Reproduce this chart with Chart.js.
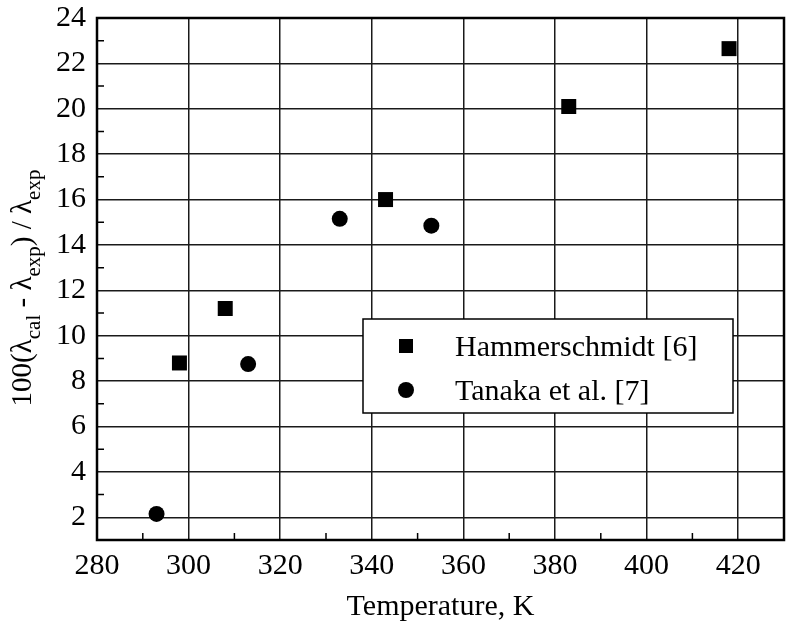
<!DOCTYPE html>
<html>
<head>
<meta charset="utf-8">
<title>Thermal conductivity deviation vs temperature</title>
<script src="https://cdn.jsdelivr.net/npm/chart.js@4/dist/chart.umd.min.js"></script>
<style>
  html, body { margin: 0; padding: 0; background: #fff; }
  canvas { display: block; }
</style>
</head>
<body>
<canvas id="devChart" width="786" height="625"></canvas>
<script>
// Hammerschmidt [6]
const hammerTemp = [298, 308, 343, 383, 418];
const hammerDev = [8.8, 11.2, 16.0, 20.1, 22.65];
// Tanaka et al. [7]
const tanakaTemp = [293, 313, 333, 353];
const tanakaDev = [2.15, 8.75, 15.15, 14.85];

const xTicks = [280, 300, 320, 340, 360, 380, 400, 420];
const yTicks = [2, 4, 6, 8, 10, 12, 14, 16, 18, 20, 22, 24];

const serif = '"Liberation Serif", "Times New Roman", serif';

function toPoints(xs, ys) {
    return xs.map((x, i) => ({ x: x, y: ys[i] }));
}

// frame, inward minor ticks, axis titles and the boxed legend
const decorations = {
    id: 'decorations',
    afterDraw(chart) {
        const ctx = chart.ctx;
        const a = chart.chartArea;
        const xs = chart.scales.x;
        const ys = chart.scales.y;
        ctx.save();
        ctx.strokeStyle = '#000';

        // minor ticks halfway between the labelled ones
        ctx.lineWidth = 1.5;
        ctx.beginPath();
        for (let i = 0; i < yTicks.length; i++) {
            const v = yTicks[i] - 1;
            if (v <= ys.min) continue;
            const py = ys.getPixelForValue(v);
            ctx.moveTo(a.left, py);
            ctx.lineTo(a.left + 7, py);
        }
        for (let i = 0; i < xTicks.length; i++) {
            const v = xTicks[i] + 10;
            if (v >= xs.max) continue;
            const px = xs.getPixelForValue(v);
            ctx.moveTo(px, a.bottom);
            ctx.lineTo(px, a.bottom - 7);
        }
        ctx.stroke();

        // plot frame
        ctx.lineWidth = 2.5;
        ctx.strokeRect(a.left, a.top, a.right - a.left, a.bottom - a.top);

        // x title
        ctx.fillStyle = '#000';
        ctx.font = '30px ' + serif;
        ctx.textAlign = 'center';
        ctx.textBaseline = 'alphabetic';
        ctx.fillText('Temperature, K', (a.left + a.right) / 2, 615);

        // y title with subscripts, rotated
        const parts = [
            ['100(\u03bb', 29, 0],
            ['cal', 21, 9],
            [' - \u03bb', 29, 0],
            ['exp', 21, 9],
            [') / \u03bb', 29, 0],
            ['exp', 21, 9]
        ];
        let total = 0;
        parts.forEach(p => {
            ctx.font = p[1] + 'px ' + serif;
            total += ctx.measureText(p[0]).width;
        });
        ctx.translate(31, 288);
        ctx.rotate(-Math.PI / 2);
        ctx.textAlign = 'left';
        let cx = -total / 2;
        parts.forEach(p => {
            ctx.font = p[1] + 'px ' + serif;
            ctx.fillText(p[0], cx, p[2]);
            cx += ctx.measureText(p[0]).width;
        });
        ctx.setTransform(1, 0, 0, 1, 0, 0);

        // legend box
        const box = { left: 363, top: 319, right: 733, bottom: 413 };
        ctx.fillStyle = '#fff';
        ctx.fillRect(box.left, box.top, box.right - box.left, box.bottom - box.top);
        ctx.lineWidth = 1.5;
        ctx.strokeRect(box.left, box.top, box.right - box.left, box.bottom - box.top);

        ctx.fillStyle = '#000';
        ctx.font = '30px ' + serif;
        chart.data.datasets.forEach((ds, i) => {
            const cy = 346 + i * 44;
            if (ds.pointStyle === 'rect') {
                ctx.fillRect(399, cy - 7, 14, 14);
            } else {
                ctx.beginPath();
                ctx.arc(406, cy, 8, 0, Math.PI * 2);
                ctx.fill();
            }
            ctx.fillText(ds.label, 455, cy + 10);
        });
        ctx.restore();
    }
};

new Chart(document.getElementById('devChart').getContext('2d'), {
    type: 'scatter',
    data: {
        datasets: [{
            label: 'Hammerschmidt [6]',
            data: toPoints(hammerTemp, hammerDev),
            pointStyle: 'rect',
            pointRadius: 10.6,
            pointHoverRadius: 10.6,
            backgroundColor: '#000',
            borderColor: '#000',
            borderWidth: 0
        }, {
            label: 'Tanaka et al. [7]',
            data: toPoints(tanakaTemp, tanakaDev),
            pointStyle: 'circle',
            pointRadius: 8,
            pointHoverRadius: 8,
            backgroundColor: '#000',
            borderColor: '#000',
            borderWidth: 0
        }]
    },
    options: {
        responsive: false,
        animation: false,
        layout: {
            autoPadding: false,
            padding: { left: 0, top: 18, right: 2, bottom: 0 }
        },
        plugins: {
            legend: { display: false },
            tooltip: { enabled: false }
        },
        scales: {
            x: {
                type: 'linear',
                min: 280,
                max: 430,
                afterBuildTicks: scale => { scale.ticks = xTicks.map(v => ({ value: v })); },
                afterFit: scale => {
                    scale.height = 85;
                    scale.paddingLeft = 0;
                    scale.paddingRight = 0;
                },
                grid: { color: '#1a1a1a', lineWidth: 1.5, drawTicks: false },
                border: { display: false },
                ticks: {
                    color: '#000',
                    padding: 8,
                    maxRotation: 0,
                    font: { family: serif, size: 30 }
                }
            },
            y: {
                type: 'linear',
                min: 1,
                max: 24,
                afterBuildTicks: scale => { scale.ticks = yTicks.map(v => ({ value: v })); },
                afterFit: scale => {
                    scale.width = 97;
                    scale.paddingTop = 0;
                    scale.paddingBottom = 0;
                },
                grid: { color: '#1a1a1a', lineWidth: 1.5, drawTicks: false },
                border: { display: false },
                ticks: {
                    color: '#000',
                    padding: 11,
                    font: { family: serif, size: 30 }
                }
            }
        }
    },
    plugins: [decorations]
});
</script>
</body>
</html>
